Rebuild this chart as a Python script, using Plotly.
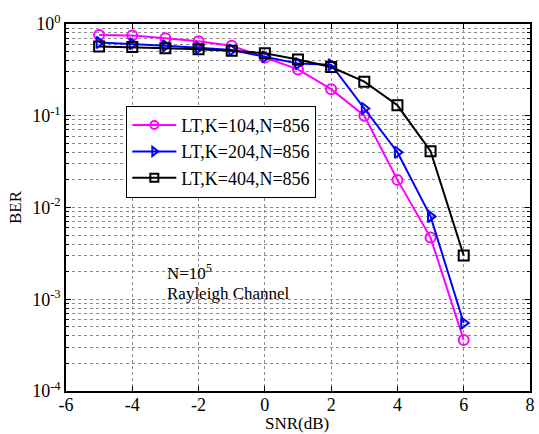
import plotly.graph_objects as go

snr = [-5, -4, -3, -2, -1, 0, 1, 2, 3, 4, 5, 6]
ber_k104 = [0.76, 0.75, 0.70, 0.65, 0.58, 0.43, 0.32, 0.195, 0.10, 0.020, 0.0047, 0.00036]
ber_k204 = [0.63, 0.61, 0.58, 0.55, 0.52, 0.44, 0.37, 0.36, 0.12, 0.040, 0.0080, 0.00055]
ber_k404 = [0.57, 0.56, 0.545, 0.53, 0.51, 0.48, 0.41, 0.34, 0.235, 0.13, 0.041, 0.0030]
names = ["LT,K=104,N=856", "LT,K=204,N=856", "LT,K=404,N=856"]
colors = ["#FF00FF", "#0000FF", "#000000"]
symbols = ["circle-open", "triangle-right-open", "square-open"]

x_ticks = [-6, -4, -2, 0, 2, 4, 6, 8]
x_ticktext = ["-6", "-4", "-2", "0", "2", "4", "6", "8"]
y_ticks = [1e-4, 1e-3, 1e-2, 1e-1, 1e0]
y_ticktext = ["10<sup>-4</sup>", "10<sup>-3</sup>", "10<sup>-2</sup>", "10<sup>-1</sup>", "10<sup>0</sup>"]
minor_vals = [m * 10 ** e for e in range(-4, 0) for m in range(2, 10)]

FAM = "Liberation Serif"

fig = go.Figure()
for ys, nm, c, s in zip([ber_k104, ber_k204, ber_k404], names, colors, symbols):
    fig.add_trace(go.Scatter(
        x=snr, y=ys, name=nm, mode="lines+markers", showlegend=False,
        line=dict(color=c, width=2),
        marker=dict(symbol=s, size=10, color=c, line=dict(width=2, color=c)),
    ))
# legend entries (smaller markers, as in the reference legend)
for nm, c, s in zip(names, colors, symbols):
    fig.add_trace(go.Scatter(
        x=[None], y=[None], name=nm, mode="lines+markers", showlegend=True,
        line=dict(color=c, width=2),
        marker=dict(symbol=s, size=8, color=c, line=dict(width=2, color=c)),
    ))

fig.update_layout(
    width=539, height=434,
    margin=dict(l=66, r=4, t=24, b=43),
    paper_bgcolor="white", plot_bgcolor="white",
    font=dict(family=FAM, size=17, color="#000"),
    showlegend=True,
    legend=dict(x=0.130, y=0.777, xanchor="left", yanchor="top",
                bgcolor="white", bordercolor="black", borderwidth=1,
                font=dict(family=FAM, size=18, color="#000"),
                tracegroupgap=0, itemwidth=44),
    annotations=[
        dict(x=-3.0, y=-2.70, xref="x", yref="y", text="N=10<sup>5</sup>",
             showarrow=False, xanchor="left", yanchor="middle",
             font=dict(family=FAM, size=17, color="#000")),
        dict(x=-3.0, y=-2.94, xref="x", yref="y", text="Rayleigh Channel",
             showarrow=False, xanchor="left", yanchor="middle",
             font=dict(family=FAM, size=17, color="#000")),
        dict(x=0.498, y=-0.058, xref="paper", yref="paper", text="SNR(dB)",
             showarrow=False, xanchor="center", yanchor="top",
             font=dict(family=FAM, size=17, color="#000")),
    ],
)
fig.update_xaxes(
    range=[-6, 8], tickvals=x_ticks, ticktext=x_ticktext,
    ticks="inside", ticklen=5, tickcolor="black",
    tickfont=dict(family=FAM, size=18, color="#000"),
    ticklabelstandoff=-3,
    showline=True, linecolor="black", linewidth=1.5, mirror="ticks",
    showgrid=True, gridcolor="#8a8a8a", griddash="dot", gridwidth=1,
    zeroline=False,
)
fig.update_yaxes(
    type="log", range=[-4, 0], tickvals=y_ticks, ticktext=y_ticktext,
    ticks="inside", ticklen=5, tickcolor="black",
    tickfont=dict(family=FAM, size=18, color="#000"),
    showline=True, linecolor="black", linewidth=1.5, mirror="ticks",
    showgrid=True, gridcolor="#8a8a8a", griddash="dot", gridwidth=1,
    zeroline=False,
    minor=dict(tickvals=minor_vals, ticks="inside", ticklen=3, tickcolor="black",
               showgrid=True, gridcolor="#8a8a8a", griddash="dot", gridwidth=1),
    title=dict(text="BER", standoff=6, font=dict(family=FAM, size=17, color="#000")),
)
fig.write_html("out.html", config={"displayModeBar": False},
               post_script="document.body.style.margin='0';")
